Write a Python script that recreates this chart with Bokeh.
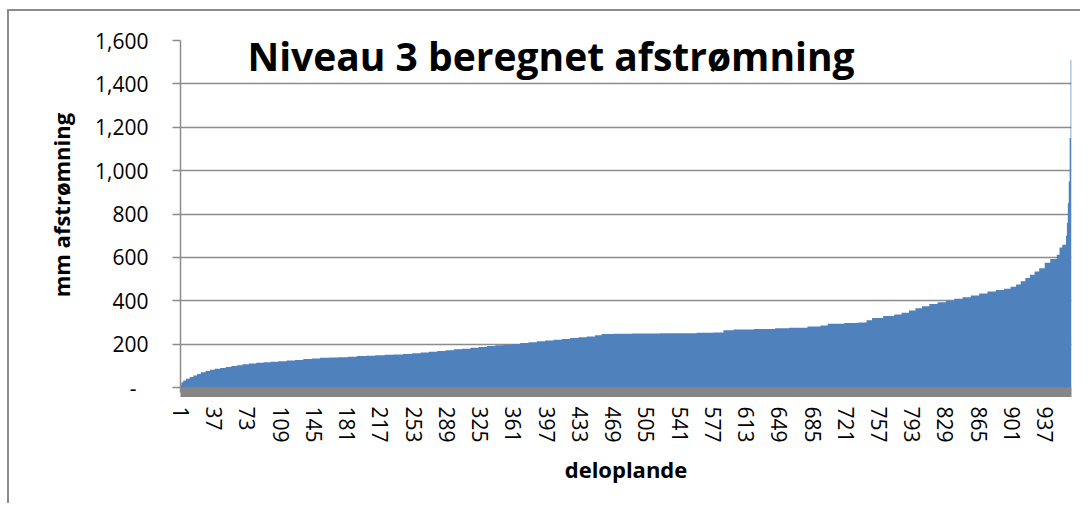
import numpy as np
from bokeh.plotting import figure
from bokeh.models import Range1d, FixedTicker, CustomJSTickFormatter, Label
from bokeh.embed import file_html
from bokeh.resources import INLINE

# ---------------- data ----------------
title_text = "Niveau 3 beregnet afstrømning"
x_label = "deloplande"
y_label = "mm afstrømning"

n_areas = 965  # number of deloplande (categories 1..965)

# sorted runoff values as plateaus: each value holds from its start category
# up to the next start category
step_start = [1, 2, 4, 7, 11, 15, 19, 23, 28, 33, 38, 44, 50, 56, 62, 68, 75, 83,
              91, 99, 107, 116, 125, 134, 143, 152, 162, 172, 182, 192, 202, 212,
              222, 232, 242, 252, 261, 270, 279, 288, 297, 306, 315, 324, 333, 342,
              351, 360, 369, 378, 387, 396, 405, 414, 423, 432, 441, 450, 457, 470,
              490, 520, 560, 578, 589, 600, 622, 645, 660, 680, 694, 702, 720, 735,
              744, 750, 762, 774, 782, 790, 797, 804, 812, 821, 830, 839, 848, 857,
              866, 875, 884, 893, 900, 906, 911, 916, 921, 926, 931, 937, 943, 950,
              953, 956, 960, 961, 962, 963, 964, 965]
step_value = [12, 24, 32, 40, 48, 55, 62, 70, 76, 82, 86, 90, 95, 99, 103, 107, 111, 114,
              116, 119, 121, 124, 127, 131, 134, 137, 138, 140, 142, 145, 147, 149,
              151, 152, 155, 158, 161, 165, 168, 172, 176, 179, 183, 187, 191, 195,
              198, 201, 205, 209, 213, 217, 220, 224, 228, 232, 235, 241, 247, 248,
              249, 250, 252, 254, 264, 268, 270, 273, 276, 281, 286, 294, 297, 300,
              310, 320, 330, 337, 345, 355, 365, 375, 385, 393, 400, 409, 416, 424,
              434, 443, 450, 455, 465, 475, 490, 505, 520, 535, 550, 575, 593, 612,
              645, 658, 700, 760, 850, 950, 1150, 1510]

x_ticks = [1, 37, 73, 109, 145, 181, 217, 253, 289, 325, 361, 397, 433, 469, 505,
           541, 577, 613, 649, 685, 721, 757, 793, 829, 865, 901, 937]
y_ticks = [0, 200, 400, 600, 800, 1000, 1200, 1400, 1600]

# expand plateaus into one value per category
counts = np.diff(step_start + [n_areas + 1])
values = np.repeat(step_value, counts)
edges = np.arange(n_areas + 1) + 0.5           # category boundaries
tops = np.append(values, values[-1])

# ---------------- styling / layout ----------------
BAR = "#4F81BD"
GRID = "#8c8c8c"
FONT = "Open Sans"

W, H = 1080, 503
FL, FR, FT, FB = 180, 1071, 40, 392          # plot-frame edges in canvas px
Y0, Y1 = -23.0, 1600.0
X0, X1 = 0.5, n_areas + 0.5

p = figure(width=W, height=H, output_backend="svg", toolbar_location=None,
           x_range=Range1d(X0, X1), y_range=Range1d(Y0, Y1),
           min_border_left=FL, min_border_right=W - FR, min_border_top=FT,
           min_border_bottom=H - FB)
p.outline_line_color = None
p.background_fill_color = "white"
p.border_fill_color = None   # let the chart-area border (host background) show

# outer chart-area border: only its top and left edges fall inside the window
line = f"linear-gradient({GRID}, {GRID})"
p.styles = {
    "background-color": "white",
    "background-image": f"{line}, {line}",
    "background-position": "7px 9px, 7px 9px",
    "background-size": "2000px 2px, 2px 2000px",
    "background-repeat": "no-repeat, no-repeat",
}

p.varea_step(x=edges, y1=0, y2=tops, step_mode="after", fill_color=BAR)

# y axis
ya = p.yaxis[0]
ya.ticker = FixedTicker(ticks=y_ticks)
ya.formatter = CustomJSTickFormatter(
    code="return tick == 0 ? '-\\u2007' : tick.toLocaleString('en-US');")
ya.major_tick_out = 8
ya.major_tick_in = 0
ya.minor_tick_out = 0
ya.minor_tick_in = 0
ya.axis_line_color = GRID
ya.axis_line_width = 1.5
ya.major_tick_line_color = GRID
ya.major_tick_line_width = 1.5
ya.major_label_standoff = 24
ya.major_label_text_font = FONT
ya.major_label_text_font_size = "21px"
ya.major_label_text_color = "black"
ya.axis_label = "\u00a0\u00a0\u00a0\u00a0" + y_label
ya.axis_label_text_font = FONT
ya.axis_label_text_font_style = "bold"
ya.axis_label_text_font_size = "22px"
ya.axis_label_text_color = "black"
ya.axis_label_standoff = 16

# x axis
xa = p.xaxis[0]
xa.ticker = FixedTicker(ticks=x_ticks)
xa.major_label_orientation = "vertical"
xa.major_tick_out = 0
xa.major_tick_in = 0
xa.minor_tick_out = 0
xa.minor_tick_in = 0
xa.axis_line_color = "#868686"
xa.axis_line_width = 9
xa.major_label_standoff = 14
xa.major_label_text_font = FONT
xa.major_label_text_font_size = "21px"
xa.major_label_text_color = "black"
xa.axis_label = x_label
xa.axis_label_text_font = FONT
xa.axis_label_text_font_style = "bold"
xa.axis_label_text_font_size = "22px"
xa.axis_label_text_color = "black"
xa.axis_label_standoff = 8

p.xgrid.visible = False
p.ygrid.grid_line_color = GRID
p.ygrid.grid_line_width = 1.5

# chart title, placed inside the plot area as in the original
p.add_layout(Label(x=73.0, y=1530, text=title_text, text_font=FONT,
                   text_font_style="bold", text_font_size="39px",
                   text_color="black", text_baseline="alphabetic"))

open("out.html", "w").write(file_html(p, INLINE))
